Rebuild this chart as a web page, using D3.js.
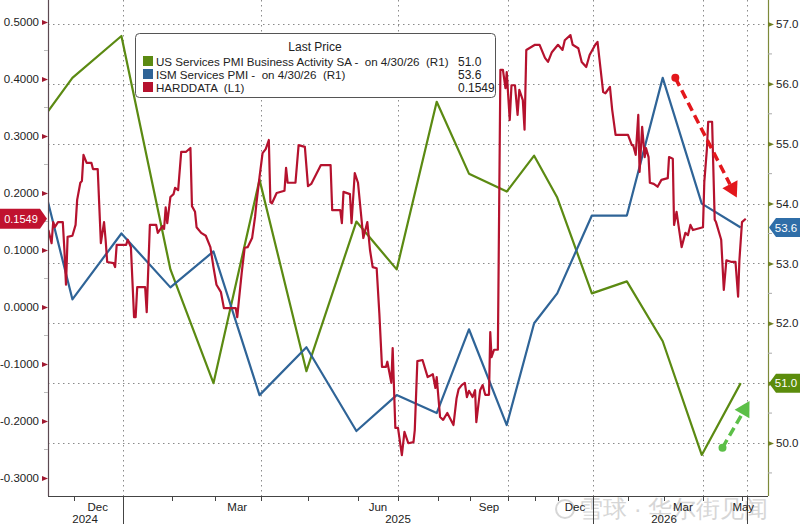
<!DOCTYPE html>
<html><head><meta charset="utf-8">
<script src="https://cdn.jsdelivr.net/npm/d3@7"></script>
<style>
html,body{margin:0;padding:0;background:#fff;}
svg{display:block;}
text{font-family:"Liberation Sans",Arial,sans-serif;}
.pre{white-space:pre;}
</style></head>
<body>
<svg id="chart" width="800" height="524"></svg>
<script>
// ---------------- DATA ----------------
const pmiDates = ["2024-10-31","2024-11-30","2024-12-31","2025-01-31","2025-02-28","2025-03-31","2025-04-30","2025-05-31","2025-06-30","2025-07-31","2025-08-31","2025-09-30","2025-10-31","2025-11-30","2025-12-31","2026-01-31","2026-02-28","2026-03-31","2026-04-30"];
const usServicesPMI = [55.0,56.1,56.8,52.9,51.0,54.4,51.2,53.7,52.9,55.7,54.5,54.2,54.8,54.1,52.5,52.7,51.7,49.8,51.0];
const ismServicesPMI = [55.6,52.4,53.5,52.6,53.2,50.8,51.6,50.2,50.8,50.5,51.9,50.3,52.0,52.5,53.8,53.8,56.1,54.0,53.6];

const hardDates = ["2024-11-15","2024-11-17","2024-11-18","2024-11-19","2024-11-21","2024-11-24","2024-11-25","2024-11-26","2024-11-27","2024-11-30",
"2024-12-02","2024-12-03","2024-12-05","2024-12-06","2024-12-07","2024-12-09","2024-12-12","2024-12-13","2024-12-16","2024-12-18","2024-12-20","2024-12-21","2024-12-22","2024-12-26","2024-12-27","2024-12-28",
"2025-01-03","2025-01-04","2025-01-06","2025-01-08","2025-01-09","2025-01-10","2025-01-15","2025-01-16","2025-01-18","2025-01-22","2025-01-23","2025-01-26","2025-01-27","2025-01-28","2025-01-29","2025-01-31",
"2025-02-02","2025-02-03","2025-02-05","2025-02-07","2025-02-10","2025-02-13","2025-02-14","2025-02-16","2025-02-17","2025-02-20","2025-02-23","2025-02-26","2025-02-28",
"2025-03-02","2025-03-05","2025-03-07","2025-03-15","2025-03-16","2025-03-17","2025-03-19","2025-03-21","2025-03-23","2025-03-26","2025-03-28","2025-03-29","2025-03-31",
"2025-04-02","2025-04-04","2025-04-06","2025-04-07","2025-04-08","2025-04-11","2025-04-16","2025-04-17","2025-04-18","2025-04-23","2025-04-25","2025-04-29",
"2025-05-01","2025-05-03","2025-05-09","2025-05-15","2025-05-16","2025-05-21","2025-05-22","2025-05-23","2025-05-27","2025-05-28","2025-05-30",
"2025-06-01","2025-06-05","2025-06-08","2025-06-10","2025-06-12","2025-06-15","2025-06-17","2025-06-19","2025-06-22","2025-06-23","2025-06-26","2025-06-27","2025-06-29",
"2025-07-01","2025-07-04","2025-07-06","2025-07-09","2025-07-13","2025-07-14","2025-07-16","2025-07-20","2025-07-24","2025-07-28","2025-07-30","2025-07-31",
"2025-08-03","2025-08-06","2025-08-10","2025-08-12","2025-08-16","2025-08-19","2025-08-21","2025-08-24","2025-08-27","2025-08-29","2025-08-31",
"2025-09-03","2025-09-05","2025-09-06","2025-09-09","2025-09-11","2025-09-13","2025-09-16","2025-09-17","2025-09-18","2025-09-20","2025-09-23","2025-09-25","2025-09-27","2025-09-29","2025-09-30",
"2025-10-03","2025-10-05","2025-10-09","2025-10-12","2025-10-14","2025-10-18","2025-10-20","2025-10-22",
"2025-11-01","2025-11-07","2025-11-14","2025-11-18","2025-11-23",
"2025-12-01","2025-12-05","2025-12-07","2025-12-12","2025-12-14","2025-12-19","2025-12-22","2025-12-26","2025-12-29",
"2026-01-03","2026-01-05","2026-01-10","2026-01-12","2026-01-16","2026-01-18","2026-01-21",
"2026-02-01","2026-02-04","2026-02-05","2026-02-07","2026-02-09","2026-02-10","2026-02-12","2026-02-14","2026-02-15","2026-02-17","2026-02-18","2026-02-21","2026-02-24","2026-02-27",
"2026-03-04","2026-03-05","2026-03-08","2026-03-09","2026-03-11","2026-03-15","2026-03-18","2026-03-20","2026-03-22","2026-03-24",
"2026-04-01","2026-04-02","2026-04-04","2026-04-05","2026-04-08","2026-04-10","2026-04-11","2026-04-15","2026-04-17","2026-04-19","2026-04-23","2026-04-26","2026-04-28","2026-04-29","2026-05-01","2026-05-04"];
const hardValues = [0.135,0.112,0.149,0.140,0.149,0.149,0.100,0.039,0.123,0.125,
0.144,0.188,0.218,0.221,0.267,0.253,0.253,0.242,0.242,0.112,0.149,0.118,0.079,0.077,0.070,0.109,
0.109,0.118,0.105,-0.018,-0.018,0.035,0.035,-0.009,0.144,0.144,0.130,0.142,0.137,0.175,0.147,0.193,
0.198,0.209,0.205,0.272,0.272,0.279,0.177,0.167,0.140,0.130,0.125,0.105,0.070,
0.039,0.026,-0.002,-0.002,-0.018,0.009,0.060,0.104,0.105,0.121,0.158,0.184,0.228,
0.270,0.277,0.293,0.184,0.182,0.200,0.204,0.244,0.218,0.218,0.284,0.281,
0.212,0.216,0.249,0.249,0.170,0.170,0.147,0.202,0.198,0.147,0.235,
0.218,0.121,0.149,0.100,0.070,0.068,-0.011,-0.105,-0.105,-0.096,-0.133,-0.072,-0.212,
-0.212,-0.260,-0.219,-0.239,-0.237,-0.216,-0.095,-0.093,-0.123,-0.118,-0.142,-0.123,
-0.193,-0.198,-0.186,-0.193,-0.207,-0.160,-0.144,-0.137,-0.133,-0.158,-0.147,
-0.158,-0.146,-0.202,-0.146,-0.137,-0.154,-0.154,-0.044,-0.088,-0.075,-0.075,0.416,0.416,0.384,0.412,
0.328,0.389,0.389,0.337,0.381,0.363,0.311,0.451,
0.460,0.460,0.437,0.430,0.447,
0.460,0.451,0.468,0.477,0.460,0.454,0.430,0.421,0.442,
0.460,0.465,0.377,0.375,0.386,0.346,0.302,
0.302,0.284,0.284,0.267,0.337,0.237,0.316,0.263,0.279,0.263,0.218,0.216,0.211,0.223,
0.226,0.263,0.260,0.144,0.167,0.105,0.130,0.126,0.144,0.135,
0.140,0.219,0.277,0.325,0.325,0.153,0.149,0.118,0.030,0.082,0.079,0.079,0.018,0.082,0.149,0.1549];

const leftTicks = [-0.3,-0.2,-0.1,0.0,0.1,0.2,0.3,0.4,0.5];
const rightTicks = [50,51,52,53,54,55,56,57];
const monthLabels = [["2024-12-16","Dec"],["2025-03-16","Mar"],["2025-06-16","Jun"],["2025-09-16","Sep"],["2025-12-16","Dec"],["2026-03-16","Mar"],["2026-05-02","May"]];
const yearLabels = [["2024","2024-12-08"],["2025","2025-07-01"],["2026","2026-03-01"]];
const legendItems = [
  {name:"US Services PMI Business Activity SA -  on 4/30/26  (R1)", last:"51.0", color:"#5b8a12"},
  {name:"ISM Services PMI -  on 4/30/26  (R1)", last:"53.6", color:"#2f6497"},
  {name:"HARDDATA  (L1)", last:"0.1549", color:"#b5122e"}
];

(function(){
// ---------------- SCALES ----------------
const P = d3.timeParse("%Y-%m-%d");
const W = 800, H = 524;
const pL = 48, pR = 768, pT = 0, pB = 496;
// Bloomberg compresses days without data, so the time axis is piecewise
const xBreaks = [["2024-11-01",26],["2024-12-01",74],["2025-01-01",123],["2025-02-01",172],["2025-03-01",215],["2025-04-01",261],["2025-05-01",308],["2025-06-01",358],["2025-07-01",398],["2025-08-01",438],["2025-09-01",470],["2025-10-01",508],["2025-11-01",535],["2025-12-01",558],["2026-01-01",593],["2026-02-01",628],["2026-03-01",664],["2026-04-01",703],["2026-05-01",742],["2026-05-05",747],["2026-05-09",752]];
const x = d3.scaleTime().domain(xBreaks.map(d=>P(d[0]))).range(xBreaks.map(d=>d[1]));
const yL = d3.scaleLinear().domain([-0.3,0.5]).range([478,22]);
const yR = d3.scaleLinear().domain([50,57]).range([443,24]);

const svg = d3.select("#chart");
svg.append("rect").attr("width",W).attr("height",H).attr("fill","#fff");
svg.append("defs").append("clipPath").attr("id","clip").append("rect")
  .attr("x",pL).attr("y",pT).attr("width",pR-pL).attr("height",pB-pT);

// gridlines
const grid = svg.append("g").attr("stroke","#8a8a8a").attr("stroke-width",1).attr("stroke-dasharray","1.5,3.5");
grid.selectAll("line.h").data(rightTicks).join("line")
  .attr("x1",pL).attr("x2",pR).attr("y1",d=>Math.round(yR(d))+0.5).attr("y2",d=>Math.round(yR(d))+0.5);
const vGrid = ["2025-01-01","2025-04-01","2025-07-01","2025-10-01","2026-01-01","2026-04-01","2026-05-05"];
grid.selectAll("line.v").data(vGrid).join("line")
  .attr("x1",d=>Math.round(x(P(d)))+0.5).attr("x2",d=>Math.round(x(P(d)))+0.5).attr("y1",pT).attr("y2",pB);

// watermark
const wm = svg.append("g").attr("fill","#d6d6d6");
wm.append("circle").attr("cx",565).attr("cy",509).attr("r",9).attr("fill","none").attr("stroke","#d6d6d6").attr("stroke-width",2);
wm.append("text").attr("x",579).attr("y",517).attr("font-size",24).attr("font-family","'Noto Sans CJK SC',sans-serif").text("雪球 · 华尔街见闻");

// lines
const plot = svg.append("g").attr("clip-path","url(#clip)");
const lineR = d3.line().x(d=>x(d[0])).y(d=>yR(d[1]));
const lineL = d3.line().x(d=>x(d[0])).y(d=>yL(d[1]));
const greenData = pmiDates.map((d,i)=>[P(d),usServicesPMI[i]]);
const blueData = pmiDates.map((d,i)=>[P(d),ismServicesPMI[i]]);
const redData = hardDates.map((d,i)=>[P(d),hardValues[i]]);
plot.append("path").attr("d",lineR(greenData)).attr("fill","none").attr("stroke",legendItems[0].color).attr("stroke-width",2.2).attr("stroke-linejoin","round");
plot.append("path").attr("d",lineR(blueData)).attr("fill","none").attr("stroke",legendItems[1].color).attr("stroke-width",2.2).attr("stroke-linejoin","round");
plot.append("path").attr("d",lineL(redData)).attr("fill","none").attr("stroke",legendItems[2].color).attr("stroke-width",2.2).attr("stroke-linejoin","round");

// axes lines
svg.append("line").attr("x1",pL+0.5).attr("x2",pL+0.5).attr("y1",0).attr("y2",pB).attr("stroke","#5c4a52").attr("stroke-width",1.2);
svg.append("line").attr("x1",pR+0.5).attr("x2",pR+0.5).attr("y1",0).attr("y2",pB).attr("stroke","#7d8a3a").attr("stroke-width",1.2);
svg.append("line").attr("x1",pL).attr("x2",pR).attr("y1",pB+0.5).attr("y2",pB+0.5).attr("stroke","#444").attr("stroke-width",1);

// left axis
const gL = svg.append("g").attr("transform",`translate(${pL},0)`)
  .call(d3.axisLeft(yL).tickValues(leftTicks).tickFormat(d=>d.toFixed(4)).tickSize(0).tickPadding(9));
gL.select(".domain").remove();
gL.selectAll("text").attr("font-size",11.5).attr("fill","#222").attr("font-family","'Liberation Sans',Arial,sans-serif");
gL.selectAll(".tick").append("path").attr("d","M0,0 L-6,-2.5 L-6,2.5 Z").attr("fill","#a01830");
const minorL = d3.range(-0.25,0.5,0.1);
svg.append("g").selectAll("line").data(minorL).join("line")
  .attr("x1",pL-4).attr("x2",pL).attr("y1",d=>yL(d)).attr("y2",d=>yL(d)).attr("stroke","#bbb");

// right axis
const gR = svg.append("g").attr("transform",`translate(${pR},0)`)
  .call(d3.axisRight(yR).tickValues(rightTicks).tickFormat(d=>d.toFixed(1)).tickSize(0).tickPadding(8));
gR.select(".domain").remove();
gR.selectAll("text").attr("font-size",11.5).attr("fill","#222").attr("font-family","'Liberation Sans',Arial,sans-serif");
gR.selectAll(".tick").append("path").attr("d","M0,-2.5 L6,0 L0,2.5 Z").attr("fill","#6f7f22");
const minorR = d3.range(49.5,57.5,1);
svg.append("g").selectAll("line").data(minorR).join("line")
  .attr("x1",pR).attr("x2",pR+4).attr("y1",d=>yR(d)).attr("y2",d=>yR(d)).attr("stroke","#aaa");

// bottom axis
const monthTicks = d3.timeMonth.range(P("2024-12-01"),P("2026-05-02"));
const bx = svg.append("g");
bx.selectAll("line.m").data(monthTicks).join("line")
  .attr("x1",d=>Math.round(x(d))+0.5).attr("x2",d=>Math.round(x(d))+0.5)
  .attr("y1",pB).attr("y2",d=>(d.getMonth()===0)?H:pB+5).attr("stroke","#444");
bx.append("line").attr("x1",Math.round(x(P("2026-05-05")))+0.5).attr("x2",Math.round(x(P("2026-05-05")))+0.5).attr("y1",pB).attr("y2",H).attr("stroke","#444");
bx.selectAll("text.m").data(monthLabels).join("text")
  .attr("x",d=>x(P(d[0]))).attr("y",511).attr("text-anchor","middle").attr("font-size",11.5).attr("fill","#222").text(d=>d[1]);
bx.selectAll("text.y").data(yearLabels).join("text")
  .attr("x",d=>x(P(d[1]))).attr("y",523).attr("text-anchor","middle").attr("font-size",11.5).attr("fill","#222").text(d=>d[0]);

// annotations (arrows)
function arrow(x1,y1,x2,y2,color){
  const g = svg.append("g");
  const ang = Math.atan2(y2-y1,x2-x1);
  const hl = 15, hw = 8.5;
  const bxp = x2 - hl*Math.cos(ang), byp = y2 - hl*Math.sin(ang);
  g.append("line").attr("x1",x1).attr("y1",y1).attr("x2",bxp).attr("y2",byp)
    .attr("stroke",color).attr("stroke-width",3.5).attr("stroke-dasharray","9,5");
  g.append("circle").attr("cx",x1).attr("cy",y1).attr("r",4).attr("fill",color);
  const px = -Math.sin(ang), py = Math.cos(ang);
  g.append("path").attr("d",`M${x2},${y2} L${bxp+px*hw},${byp+py*hw} L${bxp-px*hw},${byp-py*hw} Z`).attr("fill",color);
}
arrow(x(P("2026-03-10")),yR(56.1),x(P("2026-04-27")),yR(54.1),"#e3171c");
arrow(x(P("2026-04-16")),yR(49.92),x(P("2026-05-07")),yR(50.7),"#5cbf48");

// value tags
function tagLeft(v,color){
  const y = yL(v), h = 20;
  svg.append("path").attr("d",`M0,${y-h/2} L40,${y-h/2} L47,${y} L40,${y+h/2} L0,${y+h/2} Z`).attr("fill",color);
  svg.append("text").attr("x",21).attr("y",y+4).attr("text-anchor","middle").attr("font-size",11).attr("fill","#fff").text(v.toFixed(4));
}
function tagRight(v,color){
  const y = yR(v), h = 19;
  svg.append("path").attr("d",`M${pR+1},${y} L${pR+8},${y-h/2} L${W},${y-h/2} L${W},${y+h/2} L${pR+8},${y+h/2} Z`).attr("fill",color);
  svg.append("text").attr("x",786).attr("y",y+4).attr("text-anchor","middle").attr("font-size",11.5).attr("fill","#fff").text(v.toFixed(1));
}
tagLeft(hardValues[hardValues.length-1],"#c0122f");
tagRight(ismServicesPMI[ismServicesPMI.length-1],"#2f6ea8");
tagRight(usServicesPMI[usServicesPMI.length-1],"#5b8c0c");

// legend
const lg = svg.append("g");
lg.append("rect").attr("x",135.5).attr("y",33.5).attr("width",360).attr("height",64).attr("rx",4).attr("fill","#fff").attr("stroke","#555");
lg.append("text").attr("x",315).attr("y",51).attr("text-anchor","middle").attr("font-size",12).attr("fill","#222").text("Last Price");
legendItems.forEach((d,i)=>{
  const cy = 61 + i*13;
  lg.append("rect").attr("x",143).attr("y",cy-5).attr("width",10).attr("height",10).attr("fill",d.color);
  lg.append("text").attr("class","pre").attr("xml:space","preserve").attr("x",156).attr("y",cy+4.5).attr("font-size",11.6).attr("fill","#222").text(d.name);
  lg.append("text").attr("x",458).attr("y",cy+4.5).attr("font-size",12).attr("fill","#222").text(d.last);
});
})();
</script>
</body></html>
